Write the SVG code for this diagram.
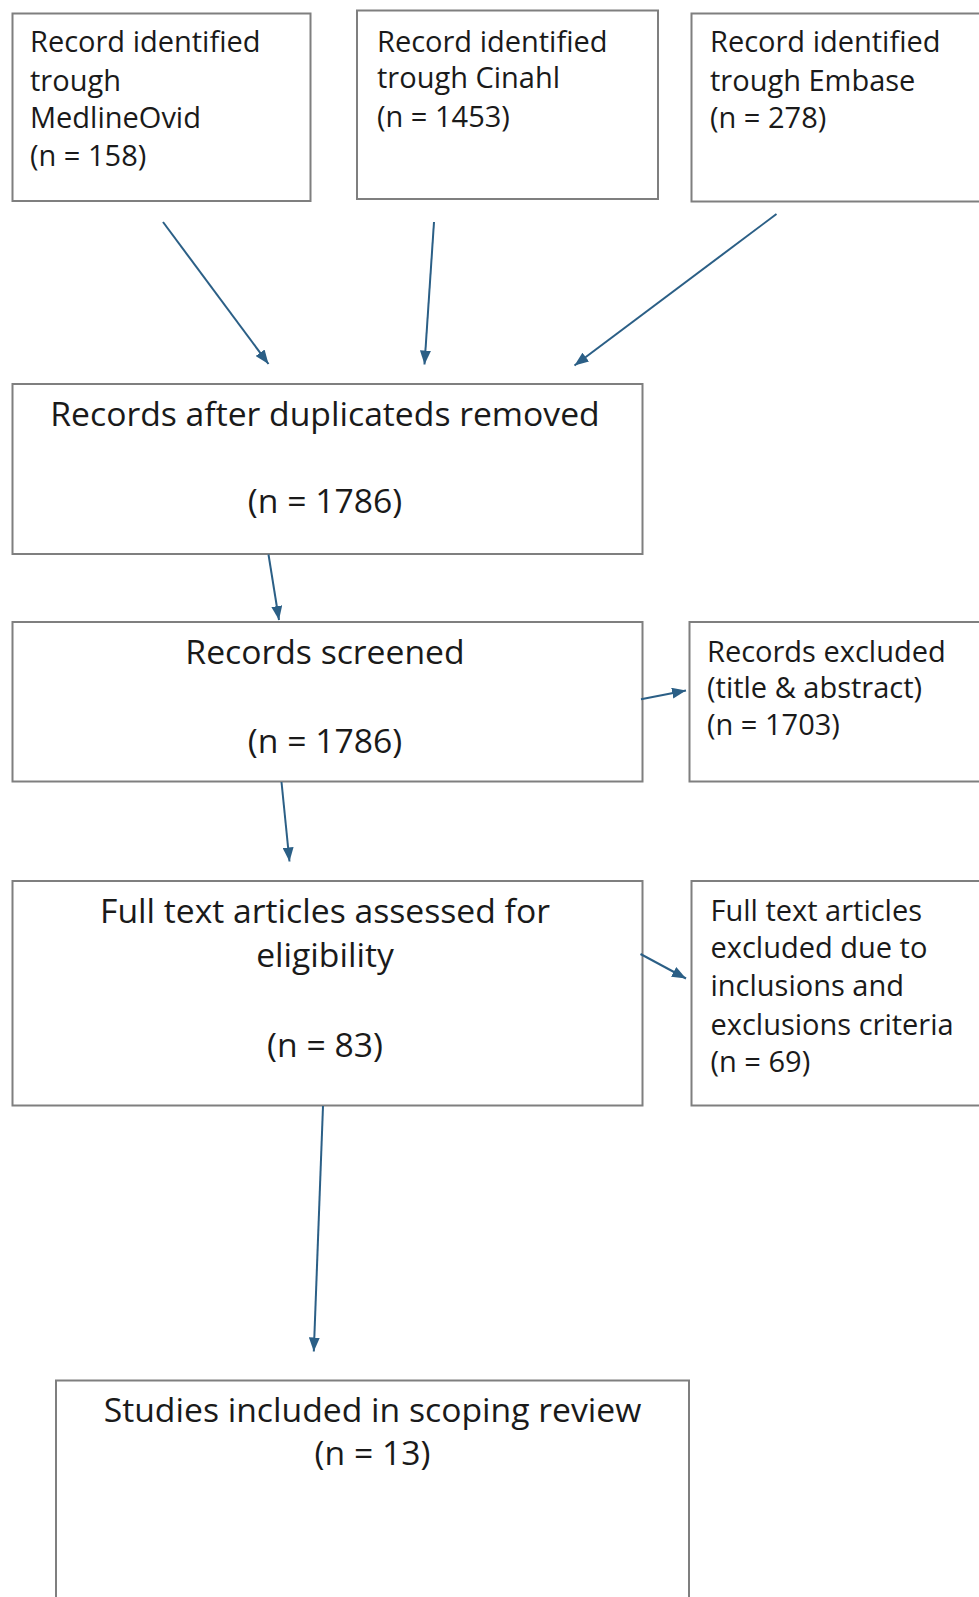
<svg xmlns="http://www.w3.org/2000/svg" width="979" height="1597" viewBox="0 0 979 1597">
<defs>
<style>
.box{fill:#ffffff;stroke:#7f7f7f;stroke-width:2}
.sm{font-family:"Open Sans","Liberation Sans",sans-serif;font-size:29px;fill:#1a1a1a}
.lg{font-family:"Open Sans","Liberation Sans",sans-serif;font-size:33.7px;fill:#1a1a1a;text-anchor:middle}
.con{stroke:#2B5F86;stroke-width:2;fill:none;marker-end:url(#ah)}
</style>
<marker id="ah" viewBox="0 0 14 11" refX="14" refY="5.5" markerWidth="14" markerHeight="11" markerUnits="userSpaceOnUse" orient="auto">
<path d="M0,0 L14,5.5 L0,11 z" fill="#2B5F86"/>
</marker>
</defs>
<rect width="979" height="1597" fill="#ffffff"/>
<g id="n1">
<rect class="box" x="12.5" y="13.5" width="298" height="187.5"/>
<text class="sm" x="30" y="51.7">Record identified</text>
<text class="sm" x="30" y="90.5">trough</text>
<text class="sm" x="30" y="128.3">MedlineOvid</text>
<text class="sm" x="30" y="165.7">(n = 158)</text>
</g>
<g id="n2">
<rect class="box" x="357" y="10.5" width="301" height="188.5"/>
<text class="sm" x="377" y="51.7">Record identified</text>
<text class="sm" x="377" y="88.3">trough Cinahl</text>
<text class="sm" x="377" y="126.7">(n = 1453)</text>
</g>
<g id="n3">
<rect class="box" x="691.5" y="13.5" width="300" height="188"/>
<text class="sm" x="710" y="51.7">Record identified</text>
<text class="sm" x="710" y="90.5">trough Embase</text>
<text class="sm" x="710" y="128.3">(n = 278)</text>
</g>
<g id="n4">
<rect class="box" x="12.5" y="384" width="630" height="170"/>
<text class="lg" x="325" y="425.5">Records after duplicateds removed</text>
<text class="lg" x="325" y="512.5">(n = 1786)</text>
</g>
<g id="n5">
<rect class="box" x="12.5" y="622" width="630" height="159.5"/>
<text class="lg" x="325" y="664">Records screened</text>
<text class="lg" x="325" y="752.5">(n = 1786)</text>
</g>
<g id="n6">
<rect class="box" x="689.5" y="622" width="302" height="159.5"/>
<text class="sm" x="707" y="661.7">Records excluded</text>
<text class="sm" x="707" y="698.3">(title &amp; abstract)</text>
<text class="sm" x="707" y="735">(n = 1703)</text>
</g>
<g id="n7">
<rect class="box" x="12.5" y="881" width="630" height="224.5"/>
<text class="lg" x="325" y="923.3">Full text articles assessed for</text>
<text class="lg" x="325" y="967.3">eligibility</text>
<text class="lg" x="325" y="1056.7">(n = 83)</text>
</g>
<g id="n8">
<rect class="box" x="691.5" y="881" width="300" height="224.5"/>
<text class="sm" x="710.5" y="920.7">Full text articles</text>
<text class="sm" x="710.5" y="958">excluded due to</text>
<text class="sm" x="710.5" y="995.5">inclusions and</text>
<text class="sm" x="710.5" y="1034.5">exclusions criteria</text>
<text class="sm" x="710.5" y="1071.7">(n = 69)</text>
</g>
<g id="n9">
<rect class="box" x="56" y="1380.5" width="633" height="240"/>
<text class="lg" x="372.5" y="1421.5">Studies included in scoping review</text>
<text class="lg" x="372.5" y="1465">(n = 13)</text>
</g>
<g id="connectors">
<line class="con" x1="163" y1="222" x2="268.5" y2="364"/>
<line class="con" x1="434" y1="222" x2="424.5" y2="364.5"/>
<line class="con" x1="776.5" y1="214" x2="574.5" y2="365.5"/>
<line class="con" x1="268.5" y1="554.5" x2="279" y2="620"/>
<line class="con" x1="641" y1="699.3" x2="686" y2="690.5"/>
<line class="con" x1="281.5" y1="782" x2="289.5" y2="861.5"/>
<line class="con" x1="640.5" y1="954" x2="686" y2="978.5"/>
<line class="con" x1="323" y1="1106" x2="313.8" y2="1351.5"/>
</g>
</svg>
